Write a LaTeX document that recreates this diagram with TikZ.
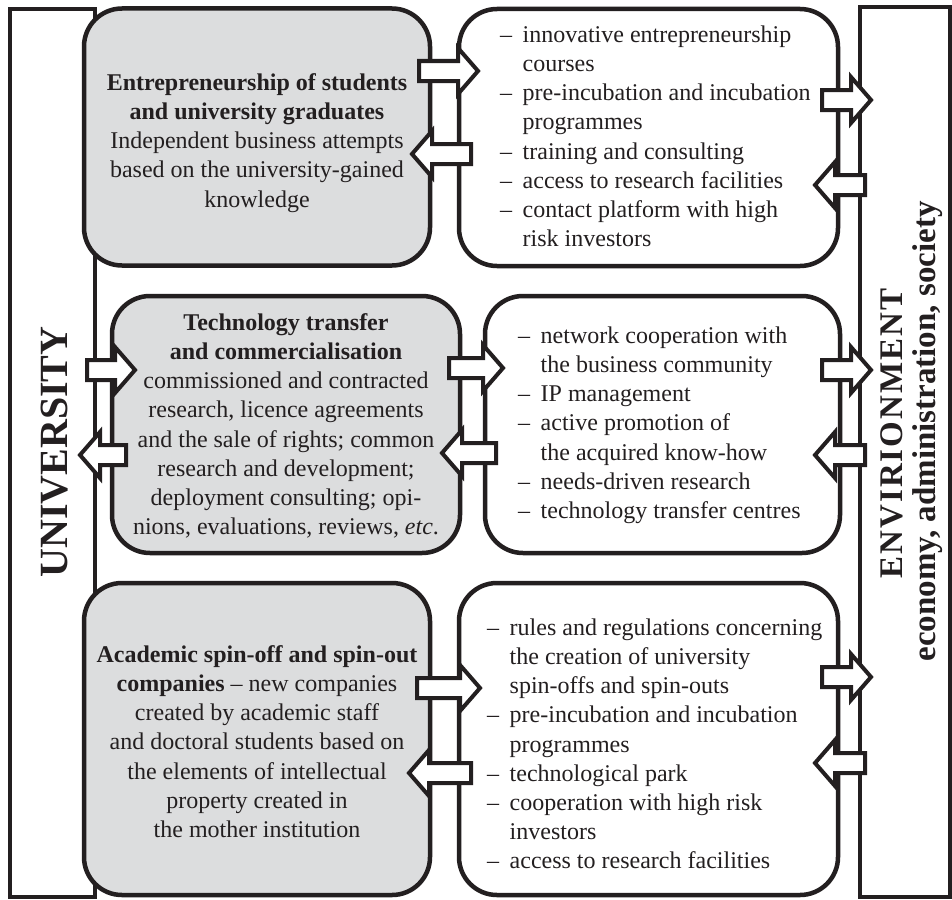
\documentclass[tikz,border=0pt]{standalone}
\usepackage{fontspec}
\setmainfont{Liberation Serif}
\definecolor{ink}{HTML}{231F20}
\definecolor{boxgray}{HTML}{DCDDDE}
\newcommand{\dsh}{\makebox[22.5pt][l]{–}}
\newcommand{\ind}{\hspace*{22.5pt}}
\newcommand{\fr}{\rule{0pt}{18pt}}
\newcommand{\rblk}[3]{\draw[blk] (#1,#3-10) -- (#2-20,#3-10) -- (#2-20,#3-23) -- (#2,#3) -- (#2-20,#3+23) -- (#2-20,#3+10) -- (#1,#3+10) -- cycle;}
\newcommand{\lblk}[3]{\draw[blk] (#1,#3-10) -- (#2+20,#3-10) -- (#2+20,#3-23) -- (#2,#3) -- (#2+20,#3+23) -- (#2+20,#3+10) -- (#1,#3+10) -- cycle;}
\tikzset{
  bar/.style={draw=ink, line width=4pt, fill=white, inner sep=0pt, rectangle},
  gbox/.style={draw=ink, line width=4.5pt, fill=boxgray, rounded corners=38pt, inner sep=0pt, rectangle},
  wbox/.style={gbox, fill=white},
  blk/.style={draw=ink, line width=4pt, fill=white, line join=miter, miter limit=10},
  txt/.style={inner sep=0pt, font=\fontsize{24}{29.2}\selectfont, text=ink},
  ctxt/.style={txt, align=center, anchor=north},
  ltxt/.style={txt, align=left, anchor=north west},
  vlab/.style={inner sep=0pt, text=ink, rotate=90, anchor=base}
}
\begin{document}
\begin{tikzpicture}[x=1pt, y=-1pt]
\useasboundingbox[fill=white] (0,0) rectangle (952,899);
% side bars
\node[bar, minimum width=85pt, minimum height=887pt] (univ) at (52,453) {};
\node[bar, minimum width=89.5pt, minimum height=889.5pt] (env) at (904.75,452.25) {};
% boxes
\node[gbox, minimum width=346pt, minimum height=257pt] (g1) at (257,137) {};
\node[wbox, minimum width=379pt, minimum height=257pt] (w1) at (648.5,137.5) {};
\node[gbox, minimum width=348pt, minimum height=257pt] (g2) at (286,424.5) {};
\node[wbox, minimum width=355pt, minimum height=257pt] (w2) at (662.5,424.5) {};
\node[gbox, minimum width=346pt, minimum height=312pt] (g3) at (257,739) {};
\node[wbox, minimum width=379pt, minimum height=312pt] (w3) at (648.5,739) {};
% block arrows row 1
\rblk{419}{478}{71}
\lblk{471}{412}{154}
\rblk{822}{871}{100}
\lblk{865}{815}{185}
% row 2
\rblk{87}{135}{370}
\lblk{126}{80}{455}
\rblk{449}{503}{368}
\lblk{496}{442}{453}
\rblk{822}{871}{370}
\lblk{865}{815}{455}
% row 3
\rblk{417}{480}{688}
\lblk{471}{409}{773}
\rblk{822}{871}{677}
\lblk{865}{815}{763}
% texts
\node[ctxt] (g1t) at (257,72) {\fr\textbf{Entrepreneurship of students}\\
\textbf{and university graduates}\\
Independent business attempts\\
based on the university-gained\\
knowledge};
\node[ctxt] (g2t) at (286,312) {\fr\textbf{Technology transfer}\\
\textbf{and commercialisation}\\
commissioned and contracted\\
research, licence agreements\\
and the sale of rights; common\\
research and development;\\
deployment consulting; opi-\\
nions, evaluations, reviews, \textit{etc}.};
\node[ctxt] (g3t) at (257,644) {\fr\textbf{Academic spin-off and spin-out}\\
\textbf{companies} – new companies\\
created by academic staff\\
and doctoral students based on\\
the elements of intellectual\\
property created in\\
the mother institution};
\node[ltxt] (w1t) at (500,24) {\fr\dsh innovative entrepreneurship\\
\ind courses\\
\dsh pre-incubation and incubation\\
\ind programmes\\
\dsh training and consulting\\
\dsh access to research facilities\\
\dsh contact platform with high\\
\ind risk investors};
\node[ltxt] (w2t) at (518,325) {\fr\dsh network cooperation with\\
\ind the business community\\
\dsh IP management\\
\dsh active promotion of\\
\ind the acquired know-how\\
\dsh needs-driven research\\
\dsh technology transfer centres};
\node[ltxt] (w3t) at (487,617) {\fr\dsh rules and regulations concerning\\
\ind the creation of university\\
\ind spin-offs and spin-outs\\
\dsh pre-incubation and incubation\\
\ind programmes\\
\dsh technological park\\
\dsh cooperation with high risk\\
\ind investors\\
\dsh access to research facilities};
% vertical labels
\node[vlab, font=\fontsize{40}{40}\selectfont\bfseries] (ulab) at (67,452) {UNIVERSITY};
\node[vlab, font=\fontsize{33}{33}\selectfont\bfseries\addfontfeature{LetterSpace=6}] (elab) at (902,433.5) {ENVIRIONMENT};
\node[vlab, font=\fontsize{33}{33}\selectfont\bfseries] (elab2) at (935,431.5) {economy, administration, society};
\end{tikzpicture}
\end{document}
